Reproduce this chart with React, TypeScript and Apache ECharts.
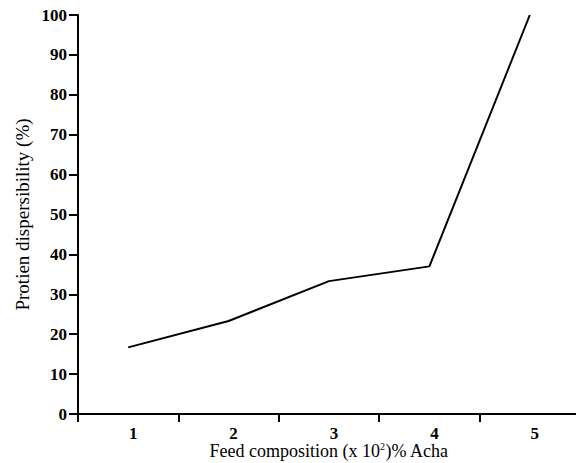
import React, { useEffect, useRef } from "react";
import * as echarts from "echarts";

const categories = ["1", "2", "3", "4", "5"];
const dispersibility = [16.7, 23.3, 33.3, 37.0, 100];
const yMin = 0;
const yMax = 100;
const yInterval = 10;

export default function App() {
  const ref = useRef<HTMLDivElement>(null);
  useEffect(() => {
    document.body.style.margin = "0";
    const chart = echarts.init(ref.current!, null, { renderer: "svg" });
    const font = "'Liberation Serif', 'Times New Roman', serif";
    chart.setOption({
      animation: false,
      backgroundColor: "#ffffff",
      grid: {
        left: 78,
        top: 15,
        width: 502,
        height: 399,
        containLabel: false,
        outerBoundsMode: "none",
      },
      xAxis: {
        type: "category",
        data: categories,
        boundaryGap: true,
        axisLine: { lineStyle: { color: "#000", width: 2 } },
        axisTick: { show: true, length: 8, lineStyle: { color: "#000", width: 2 } },
        axisLabel: {
          color: "#000",
          fontFamily: font,
          fontWeight: "bold",
          fontSize: 17,
          margin: 11,
          padding: [0, 0, 0, 10],
        },
        name: "{a|Feed composition (x 10}{s|2}{a|)% Acha}",
        nameLocation: "middle",
        nameGap: 37,
        nameMoveOverlap: false,
        nameTextStyle: {
          verticalAlign: "middle",
          rich: {
            a: { color: "#000", fontFamily: font, fontSize: 18, lineHeight: 20 },
            s: { color: "#000", fontFamily: font, fontSize: 10, verticalAlign: "top", lineHeight: 20 },
          },
        },
        splitLine: { show: false },
      },
      yAxis: {
        type: "value",
        min: yMin,
        max: yMax,
        interval: yInterval,
        axisLine: { show: true, lineStyle: { color: "#000", width: 2 } },
        axisTick: { show: true, length: 9, lineStyle: { color: "#000", width: 2 } },
        axisLabel: {
          color: "#000",
          fontFamily: font,
          fontWeight: "bold",
          fontSize: 17,
          margin: 11,
        },
        splitLine: { show: false },
        name: "Protien dispersibility (%)",
        nameLocation: "middle",
        nameGap: 46,
        nameMoveOverlap: false,
        nameTextStyle: { color: "#000", fontFamily: font, fontSize: 19 },
      },
      series: [
        {
          type: "line",
          data: dispersibility,
          symbol: "none",
          lineStyle: { color: "#000", width: 2 },
        },
      ],
    });
    return () => chart.dispose();
  }, []);
  return <div ref={ref} style={{ width: 576, height: 463 }} />;
}
